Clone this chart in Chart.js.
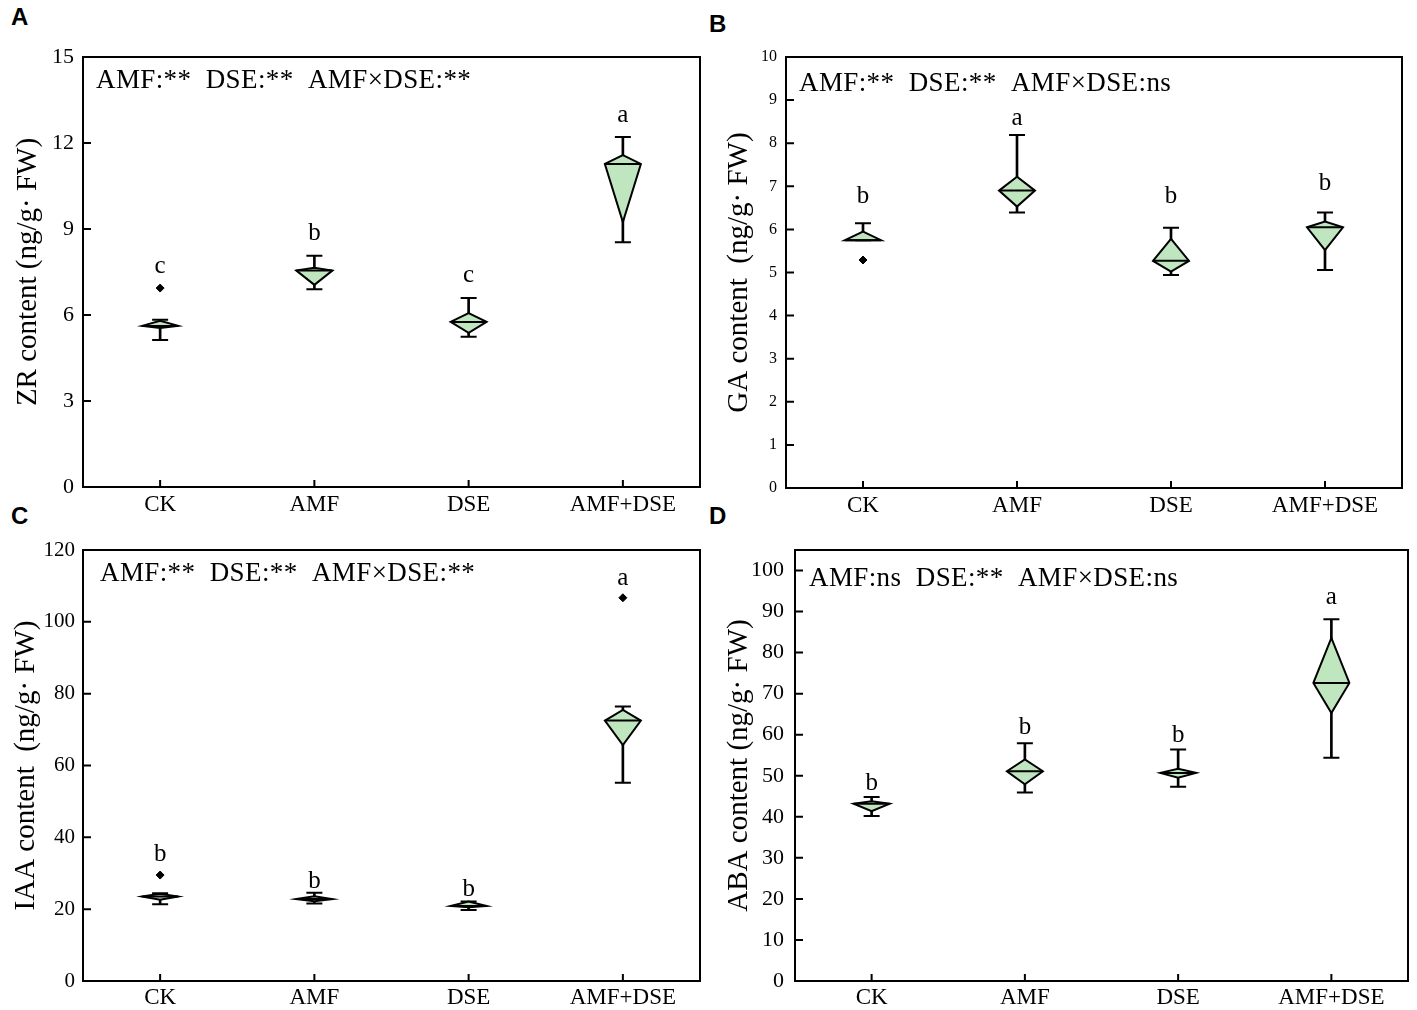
<!DOCTYPE html>
<html><head><meta charset="utf-8">
<script src="https://cdn.jsdelivr.net/npm/chart.js@4.4.1/dist/chart.umd.min.js"></script>
<style>
html,body{margin:0;padding:0;background:#fff}
body{width:1417px;height:1010px;position:relative;overflow:hidden}
.pan{position:absolute}
.lab{position:absolute;font:bold 24px 'Liberation Sans',Arial,sans-serif;line-height:1;color:#000}
</style></head>
<body>
<div class="lab" style="left:11px;top:5px">A</div>
<div class="lab" style="left:709px;top:12px">B</div>
<div class="lab" style="left:11px;top:504px">C</div>
<div class="lab" style="left:709px;top:504px">D</div>
<div class="pan" style="left:0;top:0;width:710px;height:525px"><canvas id="cA"></canvas></div>
<div class="pan" style="left:700px;top:0;width:717px;height:525px"><canvas id="cB"></canvas></div>
<div class="pan" style="left:0;top:525px;width:710px;height:485px"><canvas id="cC"></canvas></div>
<div class="pan" style="left:700px;top:525px;width:717px;height:485px"><canvas id="cD"></canvas></div>
<script>
// ---------- data ----------
const categories = ['CK', 'AMF', 'DSE', 'AMF+DSE'];

// A: ZR content
const zrMin    = [5.13, 6.90, 5.24, 8.54];
const zrQ1     = [5.55, 7.05, 5.38, 9.24];
const zrMedian = [5.62, 7.55, 5.76, 11.27];
const zrQ3     = [5.80, 7.65, 6.07, 11.58];
const zrMax    = [5.83, 8.07, 6.59, 12.21];
const zrOutliers = [{x: 'CK', y: 6.94}];
const zrLetters  = ['c', 'b', 'c', 'a'];
const zrStats    = 'AMF:**  DSE:**  AMF×DSE:**';

// B: GA content
const gaMin    = [5.75, 6.39, 4.94, 5.06];
const gaQ1     = [5.75, 6.53, 5.02, 5.52];
const gaMedian = [5.75, 6.90, 5.27, 6.05];
const gaQ3     = [5.95, 7.22, 5.78, 6.18];
const gaMax    = [6.14, 8.19, 6.04, 6.39];
const gaOutliers = [{x: 'CK', y: 5.29}];
const gaLetters  = ['b', 'a', 'b', 'b'];
const gaStats    = 'AMF:**  DSE:**  AMF×DSE:ns';

// C: IAA content
const iaaMin    = [21.4, 21.6, 19.8, 55.2];
const iaaQ1     = [22.6, 22.2, 20.5, 65.7];
const iaaMedian = [23.5, 22.8, 20.9, 72.5];
const iaaQ3     = [24.3, 23.6, 22.1, 75.5];
const iaaMax    = [24.4, 24.6, 22.1, 76.4];
const iaaOutliers = [{x: 'CK', y: 29.5}, {x: 'AMF+DSE', y: 106.7}];
const iaaLetters  = ['b', 'b', 'b', 'a'];
const iaaStats    = 'AMF:**  DSE:**  AMF×DSE:**';

// D: ABA content
const abaMin    = [40.2, 45.9, 47.3, 54.4];
const abaQ1     = [41.4, 47.9, 49.5, 65.3];
const abaMedian = [43.2, 51.1, 50.7, 72.6];
const abaQ3     = [43.8, 54.0, 51.7, 83.6];
const abaMax    = [44.8, 57.9, 56.4, 88.1];
const abaOutliers = [];
const abaLetters  = ['b', 'b', 'b', 'a'];
const abaStats    = 'AMF:ns  DSE:**  AMF×DSE:ns';

// ---------- drawing ----------
const SERIF = "'Liberation Serif','Times New Roman',serif";
const FILL = '#bfe6bf';

function makeChart(id, d, L) {
  const boxPlugin = {
    id: 'boxes_' + id,
    afterDatasetsDraw(chart) {
      const ctx = chart.ctx, xs = chart.scales.x, ys = chart.scales.y, ca = chart.chartArea;
      ctx.save();
      ctx.strokeStyle = '#000';
      ctx.lineWidth = 2;
      categories.forEach((c, i) => {
        const x = xs.getPixelForValue(i);
        const pMin = ys.getPixelForValue(d.min[i]), pMax = ys.getPixelForValue(d.max[i]);
        const pQ1 = ys.getPixelForValue(d.q1[i]), pQ3 = ys.getPixelForValue(d.q3[i]);
        const pMed = ys.getPixelForValue(d.med[i]);
        const hw = L.boxW / 2, cw = L.capW / 2;
        ctx.beginPath();
        ctx.moveTo(x - cw, pMin); ctx.lineTo(x + cw, pMin);
        ctx.moveTo(x - cw, pMax); ctx.lineTo(x + cw, pMax);
        ctx.stroke();
        ctx.beginPath();
        ctx.moveTo(x - hw, pMed);
        ctx.lineTo(x, pQ3);
        ctx.lineTo(x + hw, pMed);
        ctx.lineTo(x, pQ1);
        ctx.closePath();
        ctx.fillStyle = FILL;
        ctx.fill();
        ctx.stroke();
        ctx.beginPath();
        ctx.moveTo(x - hw, pMed); ctx.lineTo(x + hw, pMed);
        ctx.stroke();
        let top = pMax;
        d.outliers.forEach(o => { if (o.x === c) top = Math.min(top, ys.getPixelForValue(o.y)); });
        ctx.fillStyle = '#000';
        ctx.font = L.letterFont + 'px ' + SERIF;
        ctx.textAlign = 'center';
        ctx.textBaseline = 'alphabetic';
        ctx.fillText(d.letters[i], x, top - L.letterGap[i]);
      });
      ctx.lineWidth = 2;
      ctx.strokeRect(ca.left, ca.top, ca.right - ca.left, ca.bottom - ca.top);
      ctx.beginPath();
      ys.ticks.forEach(t => {
        const y = ys.getPixelForValue(t.value);
        ctx.moveTo(ca.left, y); ctx.lineTo(ca.left + 8, y);
      });
      categories.forEach((c, i) => {
        const x = xs.getPixelForValue(i);
        ctx.moveTo(x, ca.bottom); ctx.lineTo(x, ca.bottom - 7);
      });
      ctx.stroke();
      ctx.fillStyle = '#000';
      ctx.font = L.statFont + 'px ' + SERIF;
      ctx.textAlign = 'left';
      ctx.textBaseline = 'alphabetic';
      if ('letterSpacing' in ctx) ctx.letterSpacing = '0.4px';
      ctx.fillText(d.stats, ca.left + L.statDx, ca.top + L.statDy);
      ctx.restore();
    }
  };

  return new Chart(document.getElementById(id), {
    type: 'bar',
    data: {
      labels: categories,
      datasets: [
        {
          label: 'range',
          data: d.min.map((v, i) => [v, d.max[i]]),
          backgroundColor: '#000',
          borderWidth: 0,
          barThickness: 2
        },
        {
          type: 'line',
          label: 'outliers',
          data: d.outliers,
          showLine: false,
          pointStyle: 'rectRot',
          pointRadius: 4,
          backgroundColor: '#000',
          borderColor: '#000'
        }
      ]
    },
    options: {
      responsive: true,
      maintainAspectRatio: false,
      animation: false,
      devicePixelRatio: 1,
      layout: { padding: { top: L.padTop, right: L.padRight, left: 0, bottom: 0 } },
      plugins: { legend: { display: false }, tooltip: { enabled: false } },
      scales: {
        x: {
          type: 'category',
          offset: true,
          grid: { display: false, drawTicks: false },
          border: { display: false },
          ticks: { color: '#000', font: { family: SERIF, size: 23 }, padding: L.xPad },
          afterFit: s => { s.height = L.xH; }
        },
        y: {
          min: L.min, max: L.max,
          grid: { display: false, drawTicks: false },
          border: { display: false },
          ticks: { stepSize: L.step, includeBounds: false, color: '#000',
                   font: { family: SERIF, size: L.tickFont }, padding: L.yPad },
          title: { display: true, text: L.title, color: '#000',
                   font: { family: SERIF, size: 29 }, padding: { top: L.titlePad, bottom: 0 } },
          afterFit: s => { s.width = L.yW; }
        }
      }
    },
    plugins: [boxPlugin]
  });
}

makeChart('cA',
  { min: zrMin, q1: zrQ1, med: zrMedian, q3: zrQ3, max: zrMax, outliers: zrOutliers, letters: zrLetters, stats: zrStats },
  { min: 0, max: 15, step: 3, tickFont: 22, yW: 83, xH: 38, padTop: 57, padRight: 10, xPad: 4, yPad: 9,
    title: 'ZR content (ng/g· FW)', titlePad: 11, boxW: 36, capW: 16, letterFont: 25,
    letterGap: [15, 16, 16, 15], statFont: 27, statDx: 13, statDy: 31 });

makeChart('cB',
  { min: gaMin, q1: gaQ1, med: gaMedian, q3: gaQ3, max: gaMax, outliers: gaOutliers, letters: gaLetters, stats: gaStats },
  { min: 0, max: 10, step: 1, tickFont: 16, yW: 86, xH: 37, padTop: 57, padRight: 15, xPad: 4, yPad: 9,
    title: 'GA content  (ng/g· FW)', titlePad: 22, boxW: 36, capW: 16, letterFont: 25,
    letterGap: [20, 10, 25, 23], statFont: 27, statDx: 13, statDy: 34 });

makeChart('cC',
  { min: iaaMin, q1: iaaQ1, med: iaaMedian, q3: iaaQ3, max: iaaMax, outliers: iaaOutliers, letters: iaaLetters, stats: iaaStats },
  { min: 0, max: 120, step: 20, tickFont: 21, yW: 83, xH: 29, padTop: 25, padRight: 10, xPad: 3, yPad: 8,
    title: 'IAA content  (ng/g· FW)', titlePad: 9, boxW: 36, capW: 16, letterFont: 25,
    letterGap: [14, 5, 6, 13], statFont: 27, statDx: 17, statDy: 31 });

makeChart('cD',
  { min: abaMin, q1: abaQ1, med: abaMedian, q3: abaQ3, max: abaMax, outliers: abaOutliers, letters: abaLetters, stats: abaStats },
  { min: 0, max: 105, step: 10, tickFont: 22, yW: 95, xH: 29, padTop: 25, padRight: 9, xPad: 3, yPad: 11,
    title: 'ABA content (ng/g· FW)', titlePad: 22, boxW: 36, capW: 16, letterFont: 25,
    letterGap: [7, 9, 7, 15], statFont: 27, statDx: 14, statDy: 36 });
</script>
</body></html>
